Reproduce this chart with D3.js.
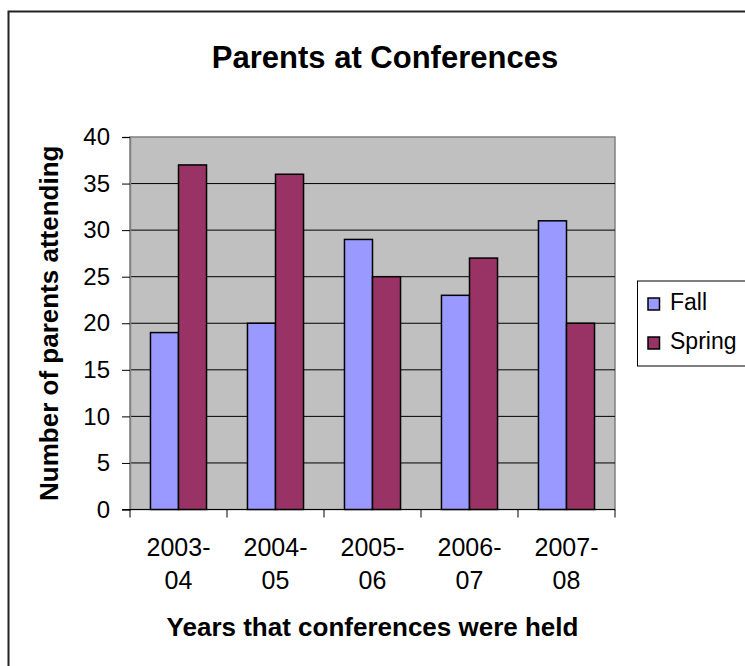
<!DOCTYPE html>
<html>
<head>
<meta charset="utf-8">
<script src="https://cdn.jsdelivr.net/npm/d3@7"></script>
<style>
  body { margin: 0; background: #fff; }
  svg { display: block; font-family: "Liberation Sans", Arial, sans-serif; }
</style>
</head>
<body>
<svg id="chart" width="745" height="666"></svg>
<script>
// chart data
const years = ["2003-04", "2004-05", "2005-06", "2006-07", "2007-08"];
const fall = [19, 20, 29, 23, 31];
const spring = [37, 36, 25, 27, 20];
const seriesNames = ["Fall", "Spring"];
const yTicks = [0, 5, 10, 15, 20, 25, 30, 35, 40];

const colors = { Fall: "#9999ff", Spring: "#993366" };

const svg = d3.select("#chart");

const plotL = 130, plotR = 615, plotT = 137, plotB = 509.5;

// outer chart border
svg.append("rect")
  .attr("x", 8.5).attr("y", 11.5)
  .attr("width", 800).attr("height", 700)
  .attr("fill", "none").attr("stroke", "#222").attr("stroke-width", 2);

let x = d3.scaleBand().domain(years).range([plotL, plotR]);
let xInner = d3.scaleBand().domain(seriesNames).range([0, x.bandwidth()]).paddingOuter(0.73);
let y = d3.scaleLinear().domain([0, 40]).range([plotB, plotT]);

// plot area
svg.append("rect")
  .attr("x", plotL).attr("y", plotT)
  .attr("width", plotR - plotL).attr("height", plotB - plotT)
  .attr("fill", "#c0c0c0").attr("stroke", "#808080").attr("stroke-width", 1.5);

// gridlines
svg.append("g").selectAll("line")
  .data(yTicks.filter(d => d > 0 && d < 40))
  .join("line")
  .attr("x1", plotL).attr("x2", plotR)
  .attr("y1", d => y(d)).attr("y2", d => y(d))
  .attr("stroke", "#000").attr("stroke-width", 1);

// bars
const rows = years.map((yr, i) => ({ year: yr, Fall: fall[i], Spring: spring[i] }));
svg.append("g").selectAll("g")
  .data(rows)
  .join("g")
  .attr("transform", d => `translate(${x(d.year)},0)`)
  .selectAll("rect")
  .data(d => seriesNames.map(s => ({ key: s, value: d[s] })))
  .join("rect")
  .attr("x", d => xInner(d.key))
  .attr("width", xInner.bandwidth())
  .attr("y", d => y(d.value))
  .attr("height", d => y(0) - y(d.value))
  .attr("fill", d => colors[d.key])
  .attr("stroke", "#000").attr("stroke-width", 1.5);

// y axis
const yAxis = d3.axisLeft(y).tickValues(yTicks).tickSize(8).tickPadding(12);
const gy = svg.append("g").attr("transform", `translate(${plotL},0)`).call(yAxis);
gy.select(".domain").attr("stroke", "#808080").attr("stroke-width", 1.5);
gy.selectAll(".tick line").attr("stroke", "#000");
gy.selectAll(".tick text").style("font-size", "24px").attr("fill", "#000");

// x axis
svg.append("line")
  .attr("x1", plotL - 8).attr("x2", plotR)
  .attr("y1", plotB).attr("y2", plotB)
  .attr("stroke", "#000").attr("stroke-width", 1.2);
const bounds = years.map(d => x(d)).concat([plotR]);
svg.append("g").selectAll("line")
  .data(bounds)
  .join("line")
  .attr("x1", d => d).attr("x2", d => d)
  .attr("y1", plotB).attr("y2", plotB + 8)
  .attr("stroke", "#000");

const xl = svg.append("g").selectAll("text")
  .data(years)
  .join("text")
  .attr("text-anchor", "middle")
  .style("font-size", "25px")
  .attr("fill", "#000");
xl.append("tspan")
  .attr("x", d => x(d) + x.bandwidth() / 2).attr("y", 556)
  .text(d => d.split("-")[0] + "-");
xl.append("tspan")
  .attr("x", d => x(d) + x.bandwidth() / 2).attr("y", 589)
  .text(d => d.split("-")[1]);

// titles
svg.append("text")
  .attr("x", 385).attr("y", 68)
  .attr("text-anchor", "middle")
  .style("font-size", "31px").style("font-weight", "bold")
  .text("Parents at Conferences");

svg.append("text")
  .attr("x", (plotL + plotR) / 2).attr("y", 636)
  .attr("text-anchor", "middle")
  .style("font-size", "26px").style("font-weight", "bold")
  .text("Years that conferences were held");

svg.append("text")
  .attr("transform", `translate(58,${(plotT + plotB) / 2}) rotate(-90)`)
  .attr("text-anchor", "middle")
  .style("font-size", "26px").style("font-weight", "bold")
  .text("Number of parents attending");

// legend
const lg = svg.append("g").attr("transform", "translate(637.5,281)");
lg.append("rect")
  .attr("width", 130).attr("height", 85)
  .attr("fill", "#fff").attr("stroke", "#000").attr("stroke-width", 1);
const li = lg.selectAll("g.item")
  .data(seriesNames)
  .join("g")
  .attr("class", "item")
  .attr("transform", (d, i) => `translate(10.5,${17 + i * 39})`);
li.append("rect")
  .attr("width", 11.5).attr("height", 12)
  .attr("fill", d => colors[d])
  .attr("stroke", "#000").attr("stroke-width", 1.5);
li.append("text")
  .attr("x", 22).attr("y", 12)
  .style("font-size", "23px")
  .text(d => d);
</script>
</body>
</html>
